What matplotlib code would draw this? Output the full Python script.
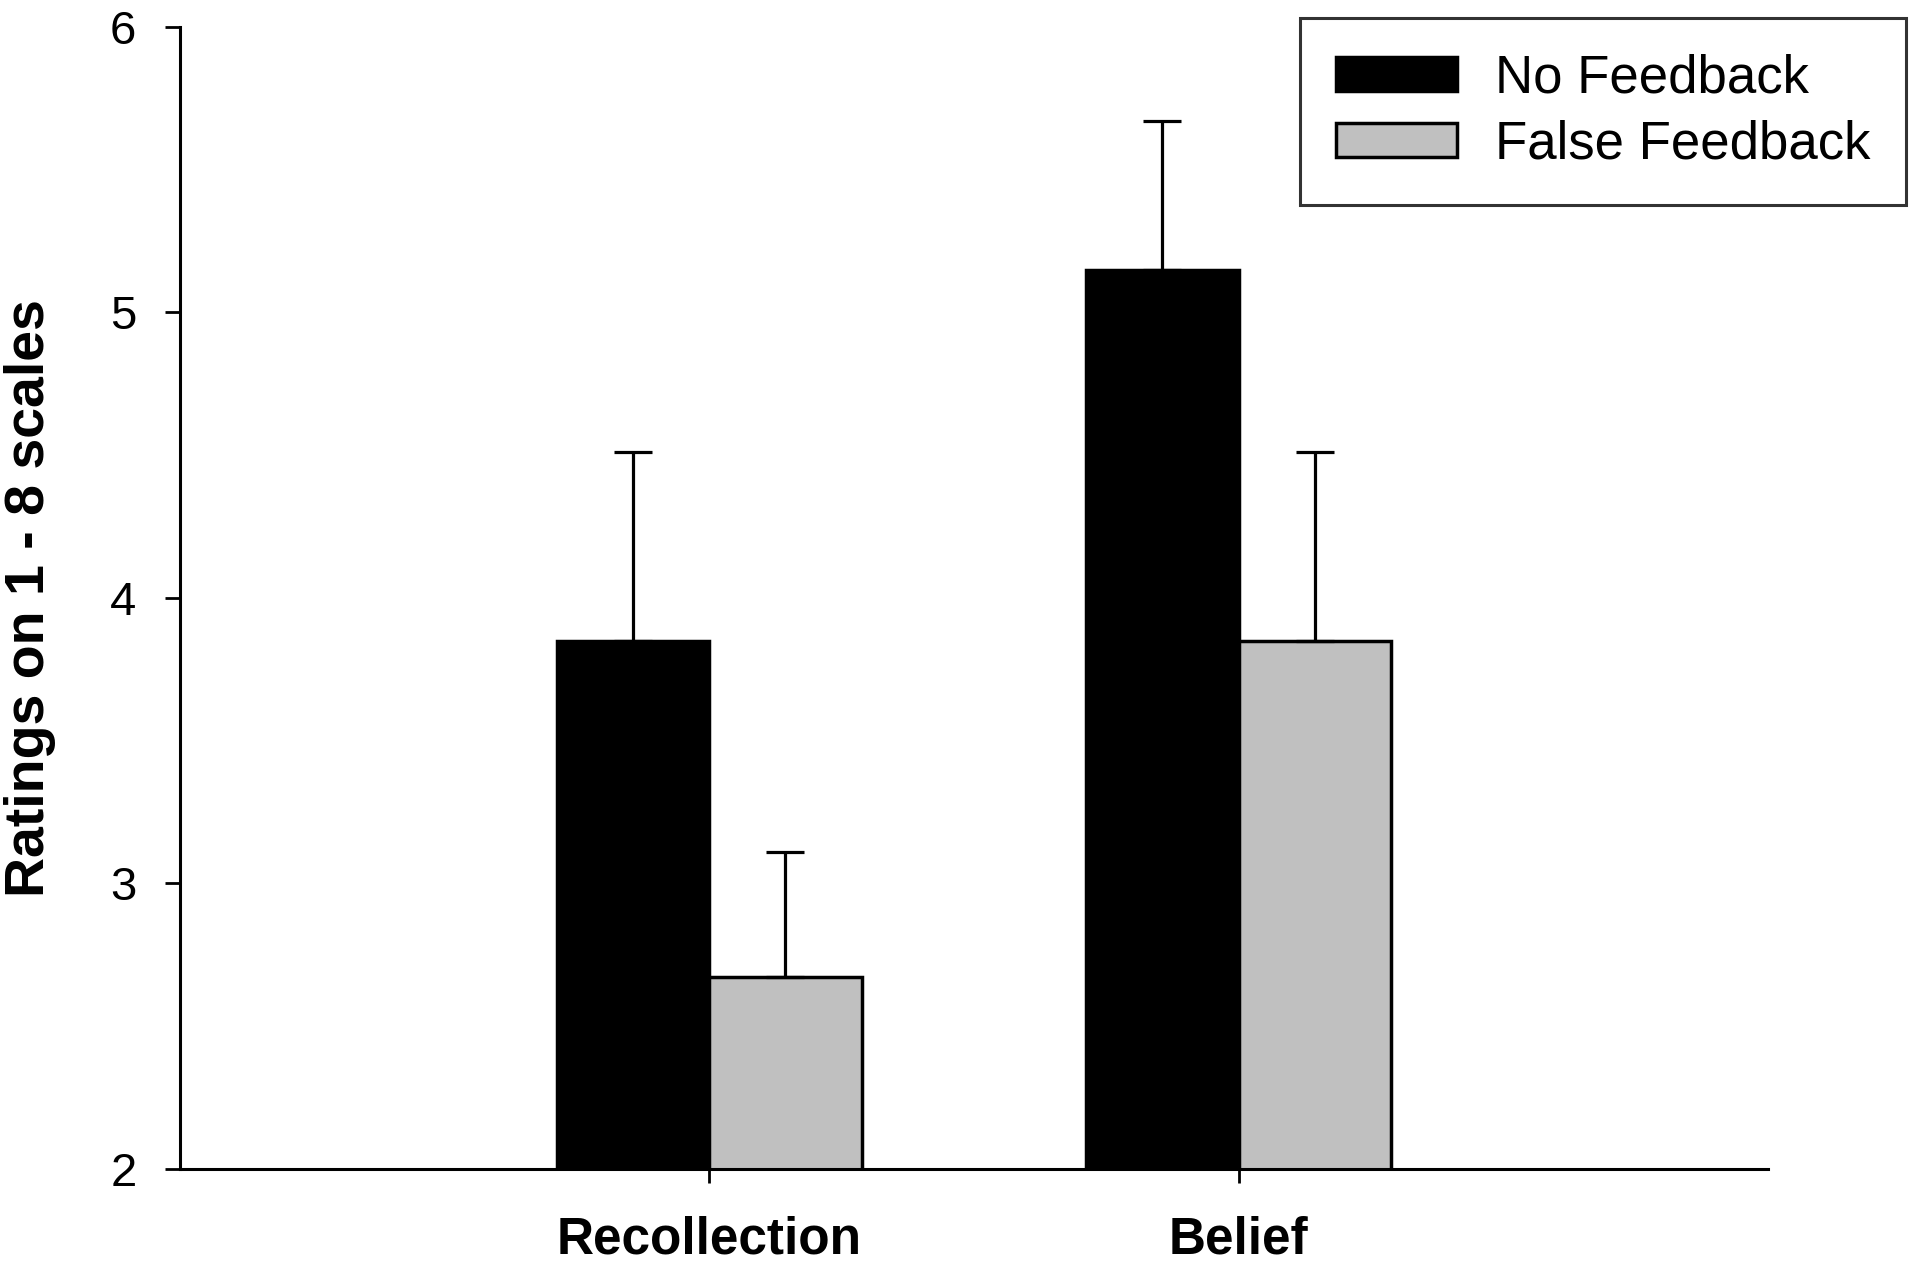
import numpy as np
import matplotlib
matplotlib.use("Agg")
import matplotlib.pyplot as plt

plt.rcParams['font.family'] = ['Liberation Sans', 'DejaVu Sans']

categories = ["Recollection", "Belief"]
series_names = ["No Feedback", "False Feedback"]
no_feedback = [3.85, 5.15]
no_feedback_err = [0.66, 0.52]
false_feedback = [2.67, 3.85]
false_feedback_err = [0.44, 0.66]
yticks = [2, 3, 4, 5, 6]

fig = plt.figure(figsize=(19.1, 12.63), dpi=100)
ax = fig.add_axes([0.094, 0.0747, 0.8318, 0.904])

x = np.arange(1, len(categories) + 1)
w = 0.288

err_kw = dict(ecolor='black', elinewidth=2.3, capsize=14, capthick=2.3)

ax.bar(x - w / 2, no_feedback, w, color='black', edgecolor='black',
       linewidth=2.5, label=series_names[0],
       yerr=[np.zeros(len(x)), no_feedback_err], error_kw=err_kw, zorder=2)
ax.bar(x + w / 2, false_feedback, w, color='#c0c0c0', edgecolor='black',
       linewidth=2.5, label=series_names[1],
       yerr=[np.zeros(len(x)), false_feedback_err], error_kw=err_kw, zorder=2)

ax.set_xlim(0, 3)
ax.set_ylim(2, 6)
ax.set_yticks(yticks)
ax.set_xticks(x)
ax.set_xticklabels(categories, fontsize=37, fontweight='bold')
ax.tick_params(axis='y', labelsize=34, length=11, width=2, pad=20, direction='out')
ax.tick_params(axis='x', length=10, width=2, pad=24, direction='out')

for s in ['top', 'right']:
    ax.spines[s].set_visible(False)
for s in ['left', 'bottom']:
    ax.spines[s].set_linewidth(2.2)

ax.set_ylabel("Ratings on 1 - 8 scales", fontsize=40, fontweight='bold', va='center')
ax.yaxis.set_label_coords(-0.094, 0.5)

leg = ax.legend(loc='upper right', bbox_to_anchor=(0.998, 0.986),
                bbox_transform=fig.transFigure, fontsize=38, frameon=True,
                fancybox=False, edgecolor='black', handlelength=2.3,
                handleheight=0.62, handletextpad=0.72, labelspacing=0.3,
                borderpad=0.68, borderaxespad=0)
leg.get_frame().set_linewidth(2.2)

fig.savefig("out.png", dpi=100, facecolor='white')
